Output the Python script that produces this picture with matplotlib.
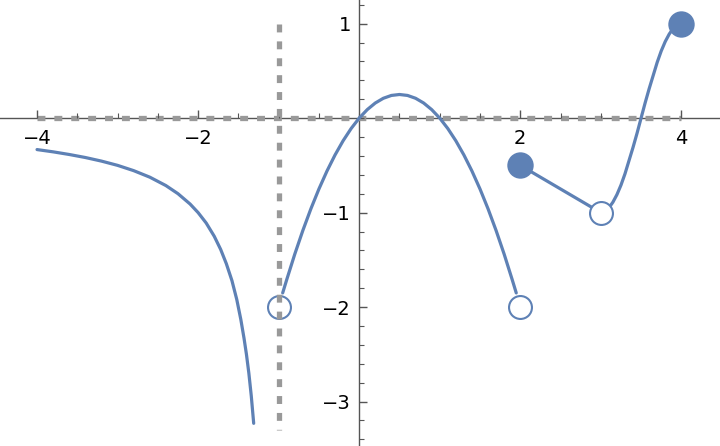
import matplotlib
matplotlib.use("Agg")
import matplotlib.pyplot as plt
from matplotlib.ticker import MultipleLocator, FixedLocator

# piece 1: left branch
x1 = [-4.0, -3.8, -3.6, -3.4, -3.2, -3.0, -2.8, -2.6, -2.4, -2.25, -2.1, -2.0,
      -1.9, -1.8, -1.72, -1.65, -1.58, -1.52, -1.47, -1.43, -1.4, -1.37, -1.34, -1.31]
y1 = [-0.333, -0.357, -0.385, -0.417, -0.455, -0.500, -0.556, -0.625, -0.714, -0.800, -0.909, -1.0,
      -1.11, -1.25, -1.39, -1.54, -1.72, -1.92, -2.13, -2.33, -2.5, -2.70, -2.94, -3.23]

# piece 2: hump between x=-1 and x=2
x2 = [-0.95, -0.9, -0.8, -0.7, -0.6, -0.5, -0.4, -0.3, -0.2, -0.1, 0.0,
      0.1, 0.2, 0.3, 0.4, 0.5, 0.6, 0.7, 0.8, 0.9, 1.0,
      1.1, 1.2, 1.3, 1.4, 1.5, 1.6, 1.7, 1.8, 1.9, 1.95]
y2 = [-1.85, -1.71, -1.44, -1.19, -0.96, -0.75, -0.56, -0.39, -0.24, -0.11, 0.0,
      0.09, 0.16, 0.21, 0.24, 0.25, 0.24, 0.21, 0.16, 0.09, 0.0,
      -0.11, -0.24, -0.39, -0.56, -0.75, -0.96, -1.19, -1.44, -1.71, -1.85]

# piece 3: straight segment
x3 = [2.0, 3.0]
y3 = [-0.5, -1.0]

# piece 4: rising S-curve
x4 = [3.0, 3.05, 3.1, 3.15, 3.2, 3.25, 3.3, 3.35, 3.4, 3.45, 3.5,
      3.55, 3.6, 3.65, 3.7, 3.75, 3.8, 3.85, 3.9, 3.95, 4.0]
y4 = [-1.0, -0.99, -0.95, -0.89, -0.81, -0.71, -0.59, -0.45, -0.31, -0.16, 0.0,
      0.16, 0.31, 0.45, 0.59, 0.71, 0.81, 0.89, 0.95, 0.99, 1.0]

open_x = [-1, 2, 3]
open_y = [-2, -2, -1]
closed_x = [2, 4]
closed_y = [-0.5, 1]

blue = "#5E81B5"
axis_gray = "#555555"

fig = plt.figure(figsize=(7.2, 4.46), dpi=100)
ax = fig.add_axes([0, 0, 1, 1])

# dashed guides
ax.plot([-4, 4], [0, 0], color="#999999", lw=3.8, dashes=(1.5, 1.7),
        dash_capstyle="butt", zorder=1)

for xs, ys in [(x1, y1), (x2, y2), (x3, y3), (x4, y4)]:
    ax.plot(xs, ys, color=blue, lw=2.3, zorder=2,
            solid_capstyle="round", solid_joinstyle="round")

ax.plot(open_x, open_y, "o", ms=16.5, mfc="white", mec=blue, mew=1.5, zorder=3)
ax.plot(closed_x, closed_y, "o", ms=17.5, mfc=blue, mec=blue, mew=1.5, zorder=3)

ax.plot([-1, -1], [1.0, -3.3], color="#999999", lw=3.8, dashes=(1.5, 1.7),
        dash_capstyle="butt", zorder=4)

ax.set_xlim(-4.46, 4.48)
ax.set_ylim(-3.47, 1.25)

for s in ["top", "right"]:
    ax.spines[s].set_visible(False)
ax.spines["left"].set_position(("data", 0))
ax.spines["bottom"].set_position(("data", 0))
for s in ["left", "bottom"]:
    ax.spines[s].set_color(axis_gray)
    ax.spines[s].set_linewidth(1.0)
    ax.spines[s].set_zorder(0.5)

ax.xaxis.set_major_locator(FixedLocator([-4, -2, 2, 4]))
ax.xaxis.set_minor_locator(MultipleLocator(0.5))
ax.yaxis.set_major_locator(FixedLocator([-3, -2, -1, 1]))
ax.yaxis.set_minor_locator(MultipleLocator(0.2))
ax.set_xticklabels(["\u22124", "\u22122", "2", "4"])
ax.set_yticklabels(["\u22123", "\u22122", "\u22121", "1"])

ax.tick_params(axis="x", which="major", direction="in", length=6, width=1, color=axis_gray,
               labelsize=14, pad=8)
ax.tick_params(axis="x", which="minor", direction="in", length=3.5, width=0.8, color=axis_gray)
ax.tick_params(axis="y", which="major", direction="in", length=6, width=1, color=axis_gray,
               labelsize=14, pad=6)
ax.tick_params(axis="y", which="minor", direction="in", length=3.5, width=0.8, color=axis_gray)

fig.savefig("out.png", dpi=100)
